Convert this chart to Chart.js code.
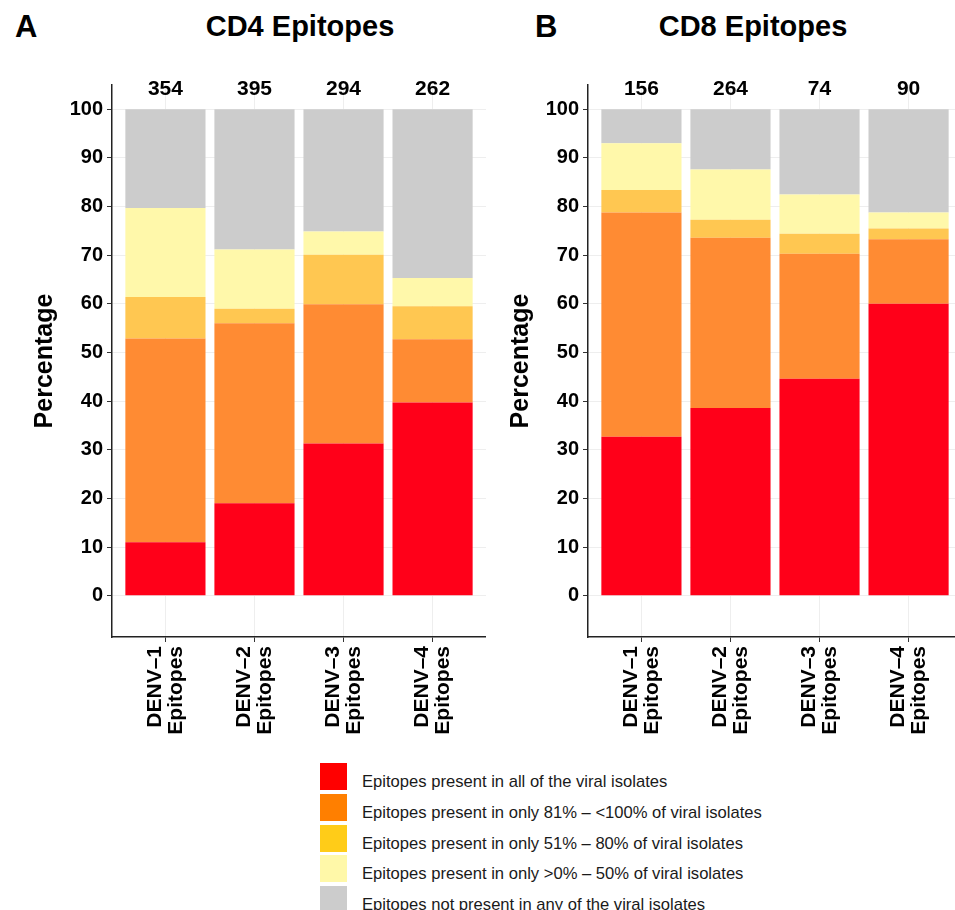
<!DOCTYPE html>
<html>
<head>
<meta charset="utf-8">
<script src="https://cdn.jsdelivr.net/npm/chart.js@4"></script>
<style>
  html, body { margin: 0; padding: 0; background: #fff; overflow: hidden; }
  body { width: 955px; height: 910px; position: relative; font-family: "Liberation Sans", Arial, sans-serif; }
  .panel { position: absolute; top: 0; width: 486px; height: 750px; }
  .tag, .ttl { position: absolute; font-weight: bold; color: #000; white-space: nowrap; }
  .tag { font-size: 31px; }
  .ttl { font-size: 29px; transform: translateX(-50%); }
  .key { position: absolute; left: 320px; width: 27px; height: 27px; }
  .ktxt { position: absolute; left: 362px; font-size: 16.6px; color: #1a1a1a; line-height: 27px; white-space: nowrap; }
</style>
</head>
<body>
<div class="tag" style="left:15px; top:9px;">A</div>
<div class="ttl" style="left:300px; top:10px;">CD4 Epitopes</div>
<div class="tag" style="left:535px; top:9px;">B</div>
<div class="ttl" style="left:753px; top:10px;">CD8 Epitopes</div>
<div class="panel" style="left:0px;"><canvas id="cd4Chart"></canvas></div>
<div class="panel" style="left:476px;"><canvas id="cd8Chart"></canvas></div>
<div id="legend"></div>

<script>
// categories and tick labels
const serotypes = [['DENV–1', 'Epitopes'], ['DENV–2', 'Epitopes'], ['DENV–3', 'Epitopes'], ['DENV–4', 'Epitopes']];
const yTicks = [0, 10, 20, 30, 40, 50, 60, 70, 80, 90, 100];

// number of epitopes above each bar
const cd4Counts = [354, 395, 294, 262];
const cd8Counts = [156, 264, 74, 90];

// percentages, bottom segment first
const cd4All = [11.0, 19.0, 31.3, 39.7];
const cd4Over80 = [41.9, 37.0, 28.6, 13.0];
const cd4Over50 = [8.5, 3.0, 10.2, 6.8];
const cd4Over0 = [18.3, 12.2, 4.8, 5.8];
const cd4None = [20.3, 28.8, 25.1, 34.7];

const cd8All = [32.7, 38.6, 44.6, 60.0];
const cd8Over80 = [46.1, 35.0, 25.7, 13.3];
const cd8Over50 = [4.6, 3.7, 4.1, 2.2];
const cd8Over0 = [9.6, 10.3, 8.1, 3.3];
const cd8None = [7.0, 12.4, 17.5, 21.2];

const groupNames = [
    'Epitopes present in all of the viral isolates',
    'Epitopes present in only 81% – <100% of viral isolates',
    'Epitopes present in only 51% – 80% of viral isolates',
    'Epitopes present in only >0% – 50% of viral isolates',
    'Epitopes not present in any of the viral isolates'
];
const barColors = ['#ff0019', '#ff8b33', '#ffc751', '#fff8aa', '#cccccc'];
const keyColors = ['#ff0000', '#ff7f00', '#ffcc18', '#fff8a8', '#cccccc'];

const FONT = '"Liberation Sans", Arial, sans-serif';

// draws the n above each bar
const countLabels = {
    id: 'countLabels',
    afterDatasetsDraw(chart, args, opts) {
        const ctx = chart.ctx;
        const xs = chart.scales.x, ys = chart.scales.y;
        ctx.save();
        ctx.font = 'bold 21px ' + FONT;
        ctx.fillStyle = '#000';
        ctx.textAlign = 'center';
        ctx.textBaseline = 'middle';
        opts.counts.forEach((n, i) => {
            ctx.fillText(String(n), xs.getPixelForValue(i), ys.getPixelForValue(104.1));
        });
        ctx.restore();
    }
};

function makeChart(id, series, counts) {
    return new Chart(document.getElementById(id), {
        type: 'bar',
        data: {
            labels: serotypes.map((s, i) => i),
            datasets: series.map((vals, k) => ({
                label: groupNames[k],
                data: vals,
                backgroundColor: barColors[k],
                borderWidth: 0,
                barPercentage: 0.9,
                categoryPercentage: 1.0
            }))
        },
        options: {
            responsive: false,
            animation: false,
            layout: { padding: { top: 85, left: 0, right: 0, bottom: 0 } },
            plugins: {
                legend: { display: false },
                tooltip: { enabled: false },
                countLabels: { counts: counts }
            },
            scales: {
                x: {
                    type: 'linear',
                    stacked: true,
                    offset: false,
                    min: -0.6,
                    max: 3.6,
                    afterBuildTicks(scale) { scale.ticks = serotypes.map((s, i) => ({ value: i })); },
                    afterFit(scale) { scale.height = 113; },
                    border: { display: true, color: '#222', width: 1.5 },
                    grid: { offset: false, color: '#eeeeee', lineWidth: 1, tickColor: '#333', tickLength: 5 },
                    ticks: {
                        minRotation: 90,
                        maxRotation: 90,
                        padding: 4,
                        labelOffset: -10,
                        color: '#000',
                        font: { family: FONT, size: 21, weight: 'bold', lineHeight: 1.0 },
                        callback: (v) => serotypes[v]
                    }
                },
                y: {
                    stacked: true,
                    min: -8.5,
                    max: 105,
                    afterBuildTicks(scale) { scale.ticks = yTicks.map(v => ({ value: v })); },
                    afterFit(scale) { scale.width = 112; },
                    border: { display: true, color: '#222', width: 1.5 },
                    grid: { color: '#eeeeee', lineWidth: 1, tickColor: '#333', tickLength: 5 },
                    ticks: {
                        padding: 4,
                        color: '#000',
                        font: { family: FONT, size: 20, weight: 'bold' }
                    },
                    title: {
                        display: true,
                        text: 'Percentage',
                        color: '#000',
                        padding: { top: 33, bottom: 0 },
                        font: { family: FONT, size: 25, weight: 'bold', lineHeight: 1.0 }
                    }
                }
            }
        },
        plugins: [countLabels]
    });
}

function sizeCanvas(id) {
    const c = document.getElementById(id);
    c.width = 486; c.height = 750;
    c.style.width = '486px'; c.style.height = '750px';
}
sizeCanvas('cd4Chart');
sizeCanvas('cd8Chart');

makeChart('cd4Chart', [cd4All, cd4Over80, cd4Over50, cd4Over0, cd4None], cd4Counts);
makeChart('cd8Chart', [cd8All, cd8Over80, cd8Over50, cd8Over0, cd8None], cd8Counts);

// legend below the two panels
const legend = document.getElementById('legend');
groupNames.forEach((name, k) => {
    const top = 763 + k * 30.8;
    const key = document.createElement('div');
    key.className = 'key';
    key.style.top = top + 'px';
    key.style.background = keyColors[k];
    legend.appendChild(key);
    const txt = document.createElement('div');
    txt.className = 'ktxt';
    txt.style.top = (top + 5) + 'px';
    txt.textContent = name;
    legend.appendChild(txt);
});
</script>
</body>
</html>
